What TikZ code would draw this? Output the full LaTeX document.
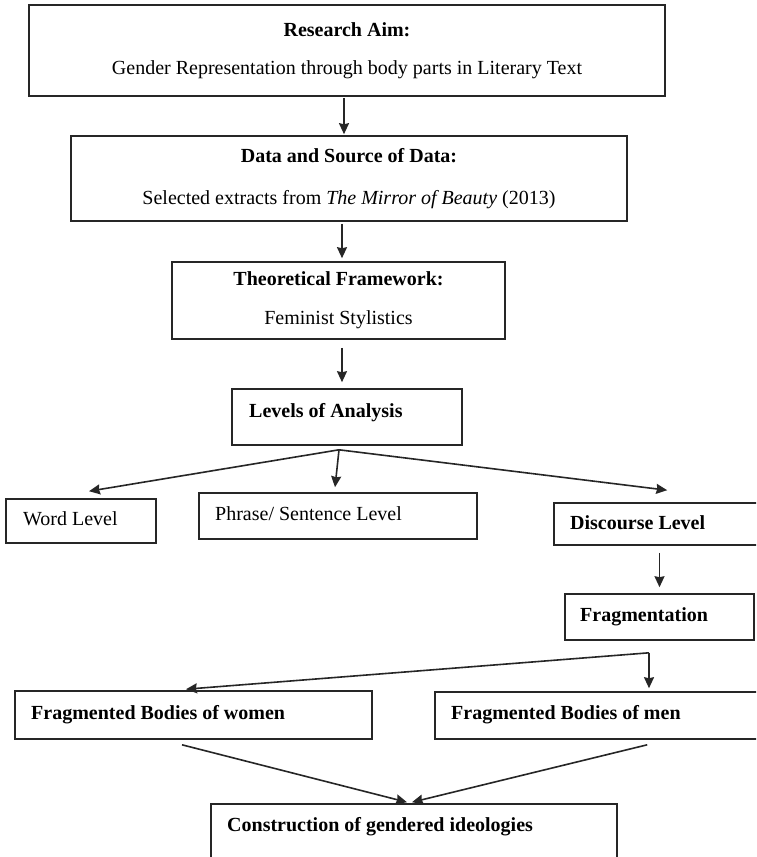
\documentclass[tikz,border=0pt]{standalone}
\usepackage{fontspec}
\setmainfont{Liberation Serif}
\usepackage{tikz}
\usetikzlibrary{arrows.meta,positioning}

\begin{document}
\begin{tikzpicture}[x=1pt, y=-1pt,
    every node/.style={font=\fontsize{20}{24}\selectfont},
    box/.style={draw=black!85, line width=1.6pt, inner sep=0pt},
    lbl/.style={anchor=west, inner sep=0pt, text height=13pt, text depth=4pt},
    arr/.style={-{Stealth[length=11pt,width=10pt,inset=1pt]}, line width=1.6pt, draw=black!85}]
    \clip (0,0) rectangle (756,857);
    \fill[white] (0,0) rectangle (756,857);

    % Research aim
    \node[box, minimum width=636pt, minimum height=91pt, align=center] (aim) at (347,50.5) {\textbf{Research Aim:}\\[14pt]Gender Representation through body parts in Literary Text};

    % Data
    \node[box, minimum width=556pt, minimum height=85pt, align=center] (data) at (349,178.5) {\textbf{Data and Source of Data:}\\[18pt]Selected extracts from \textit{The Mirror of Beauty} (2013)};

    % Framework
    \node[box, minimum width=333pt, minimum height=77pt, align=center] (theo) at (338.5,300.5) {\textbf{Theoretical Framework:}\\[15pt]Feminist Stylistics};

    % Levels
    \node[box, minimum width=230pt, minimum height=56pt] (levels) at (347,417) {};
    \node[lbl] (levelsT) at (249,412.5) {\textbf{Levels of Analysis}};

    \node[box, minimum width=150pt, minimum height=44pt] (word) at (81,521) {};
    \node[lbl] (wordT) at (23,520.5) {Word Level};

    \node[box, minimum width=278pt, minimum height=46pt] (phrase) at (338,516) {};
    \node[lbl] (phraseT) at (215,515.5) {Phrase/ Sentence Level};

    \node[box, minimum width=226pt, minimum height=42pt] (disc) at (667,524) {};
    \node[lbl] (discT) at (570,524.5) {\textbf{Discourse Level}};

    \node[box, minimum width=189pt, minimum height=46pt] (frag) at (659.5,617) {};
    \node[lbl] (fragT) at (580,616.5) {\textbf{Fragmentation}};

    % Bodies
    \node[box, minimum width=357pt, minimum height=48pt] (women) at (193.5,715) {};
    \node[lbl] (womenT) at (31,714.5) {\textbf{Fragmented Bodies of women}};

    \node[box, minimum width=345pt, minimum height=47pt] (men) at (607.5,715.5) {};
    \node[lbl] (menT) at (451,714.5) {\textbf{Fragmented Bodies of men}};

    % Result
    \node[box, minimum width=406pt, minimum height=76pt] (cons) at (414,842) {};
    \node[lbl] (consT) at (227,826.5) {\textbf{Construction of gendered ideologies}};

    % Arrows
    \draw[arr] ([xshift=-3pt,yshift=-1pt]aim.south) -- ([xshift=-5pt,yshift=1pt]data.north);
    \draw[arr] ([xshift=-7pt,yshift=-2pt]data.south) -- ([xshift=3.5pt,yshift=3pt]theo.north);
    \draw[arr] ([xshift=3.5pt,yshift=-8pt]theo.south) -- ([xshift=-5pt,yshift=6pt]levels.north);

    \coordinate (fan) at ([xshift=-8pt,yshift=-4pt]levels.south);
    \draw[arr] (fan) -- ([xshift=8pt,yshift=7pt]word.north);
    \draw[arr] (fan) -- ([xshift=-3pt,yshift=5pt]phrase.north);
    \draw[arr] (fan) -- ([xshift=114pt,yshift=12pt]disc.north west);

    \draw[arr, shorten <=7pt, shorten >=6pt] (frag.north |- disc.south) -- (frag.north);

    \coordinate (split) at ([xshift=-10.5pt,yshift=-12pt]frag.south);
    \draw[arr] (split) -- ([xshift=-7.5pt,yshift=1pt]women.north);
    \draw[arr, shorten >=3pt] (split) -- (split |- men.north);

    \draw[arr] ([xshift=-11.5pt,yshift=-5pt]women.south) -- ([xshift=-7pt,yshift=1pt]cons.north);
    \draw[arr] ([xshift=213pt,yshift=-5pt]men.south west) -- ([xshift=-2pt,yshift=1pt]cons.north);

\end{tikzpicture}
\end{document}
